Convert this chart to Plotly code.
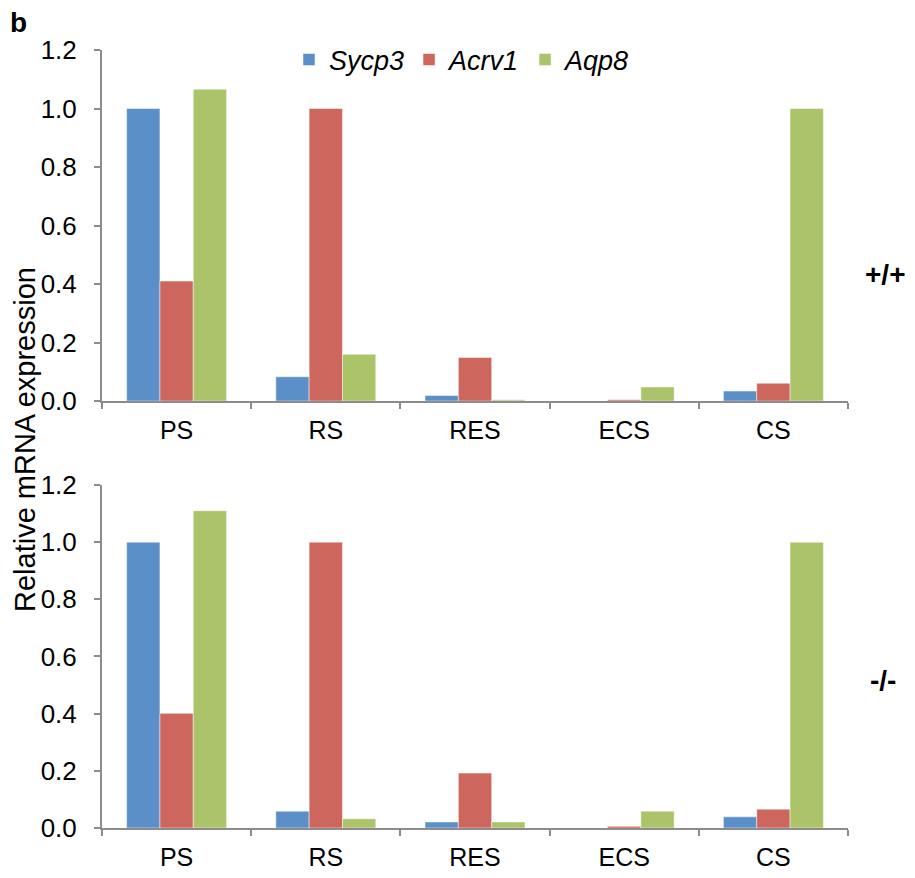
import plotly.graph_objects as go
from plotly.subplots import make_subplots

categories = ["PS", "RS", "RES", "ECS", "CS"]
genes = ["Sycp3", "Acrv1", "Aqp8"]
colors = ["#5A8FC8", "#CD665C", "#ABC369"]

wt_sycp3 = [1.0, 0.083, 0.019, 0.0, 0.034]
wt_acrv1 = [0.41, 1.0, 0.149, 0.004, 0.061]
wt_aqp8 = [1.066, 0.16, 0.004, 0.048, 1.0]

ko_sycp3 = [1.0, 0.059, 0.021, 0.0, 0.039]
ko_acrv1 = [0.401, 1.0, 0.192, 0.006, 0.066]
ko_aqp8 = [1.11, 0.032, 0.021, 0.059, 1.0]

y_ticks = [0, 0.2, 0.4, 0.6, 0.8, 1.0, 1.2]

fig = make_subplots(rows=2, cols=1, vertical_spacing=0.1)

wt = [wt_sycp3, wt_acrv1, wt_aqp8]
ko = [ko_sycp3, ko_acrv1, ko_aqp8]
for i, g in enumerate(genes):
    fig.add_trace(go.Bar(x=categories, y=wt[i], name="<i>%s</i>" % g,
                         marker=dict(color=colors[i], line=dict(color="rgba(255,255,255,0.6)", width=0.8)),
                         legendgroup=g, showlegend=True), row=1, col=1)
    fig.add_trace(go.Bar(x=categories, y=ko[i], name="<i>%s</i>" % g,
                         marker=dict(color=colors[i], line=dict(color="rgba(255,255,255,0.6)", width=0.8)),
                         legendgroup=g, showlegend=False), row=2, col=1)

axis_color = "#8C8C8C"
font_family = "Liberation Sans, Arial, sans-serif"

for r in (1, 2):
    fig.update_xaxes(row=r, col=1, showline=True, linecolor=axis_color, linewidth=2,
                     ticks="outside", tickson="boundaries", ticklen=6, tickwidth=2,
                     tickcolor=axis_color, range=[-0.5, 4.5], showgrid=False,
                     automargin=False, ticklabelstandoff=6,
                     tickfont=dict(size=25, color="black", family=font_family))
    fig.update_yaxes(row=r, col=1, showline=True, linecolor=axis_color, linewidth=2,
                     ticks="outside", ticklen=6, tickwidth=2, tickcolor=axis_color,
                     range=[0, 1.2], tickvals=y_ticks, tickformat=".1f", showgrid=False,
                     automargin=False, ticklabelstandoff=12,
                     zeroline=False, tickfont=dict(size=26, color="black", family=font_family))


def px(xp):
    return (xp - 102) / 746


def py(yp):
    return (828 - yp) / 778


fig.update_layout(
    width=907, height=870,
    margin=dict(l=94, r=67, t=42, b=50),
    plot_bgcolor="white", paper_bgcolor="white",
    barmode="group", bargap=0.33, bargroupgap=0,
    font=dict(family=font_family, size=26, color="black"),
    legend=dict(orientation="h", x=px(289), y=py(60), xanchor="left", yanchor="middle",
                font=dict(size=27), bgcolor="rgba(0,0,0,0)", itemwidth=30),
    xaxis=dict(domain=[0, 1]), yaxis=dict(domain=[0.5488, 1]),
    xaxis2=dict(domain=[0, 1]), yaxis2=dict(domain=[0, 0.4409]),
    annotations=[
        dict(text="<b>b</b>", x=px(18), y=py(22), xref="paper", yref="paper",
             showarrow=False, font=dict(size=28), xanchor="center", yanchor="middle"),
        dict(text="<b>+/+</b>", x=px(885), y=py(274), xref="paper", yref="paper",
             showarrow=False, font=dict(size=28), xanchor="center", yanchor="middle"),
        dict(text="<b>-/-</b>", x=px(883), y=py(680), xref="paper", yref="paper",
             showarrow=False, font=dict(size=28), xanchor="center", yanchor="middle"),
        dict(text="Relative mRNA expression", x=px(25), y=py(440),
             xref="paper", yref="paper", showarrow=False, textangle=-90,
             font=dict(size=29), xanchor="center", yanchor="middle"),
    ],
)

fig.write_html("out.html")
